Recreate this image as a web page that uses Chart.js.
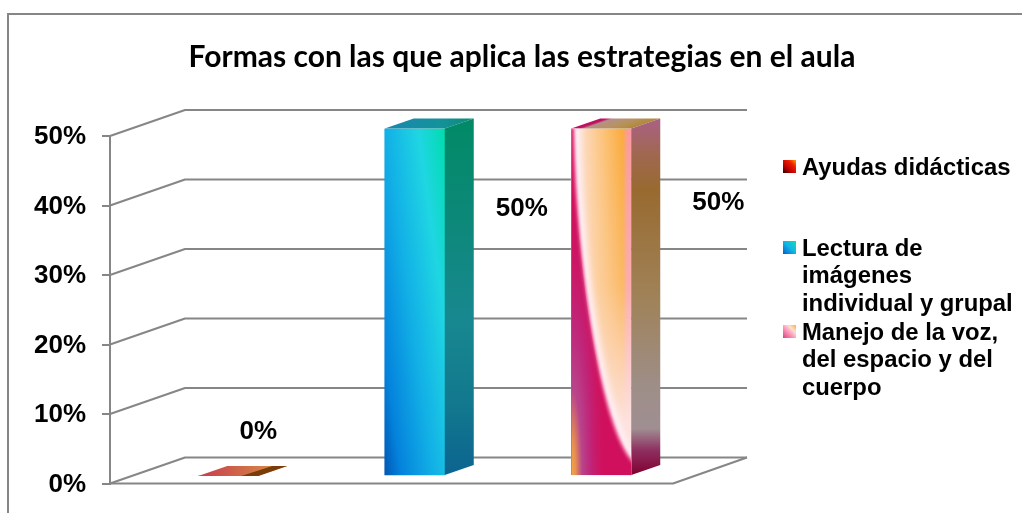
<!DOCTYPE html>
<html>
<head>
<meta charset="utf-8">
<title>Formas con las que aplica las estrategias en el aula</title>
<style>
  html, body { margin: 0; padding: 0; background: #fff; overflow: hidden; }
</style>
<script src="https://cdn.jsdelivr.net/npm/chart.js@4/dist/chart.umd.min.js"></script>
</head>
<body>
<canvas id="grafico" width="1022" height="513"></canvas>
<script>
var titulo = "Formas con las que aplica las estrategias en el aula";
var categorias = [
  ["Ayudas didácticas"],
  ["Lectura de", "imágenes", "individual y grupal"],
  ["Manejo de la voz,", "del espacio y del", "cuerpo"]
];
var valores = [0, 50, 50];
var etiquetasEje = ["0%", "10%", "20%", "30%", "40%", "50%"];
var etiquetasDatos = ["0%", "50%", "50%"];

var gris = "#868686";
var negro = "#000";
var fuenteNum = "bold 26px 'Liberation Sans'";
var fuenteLeyenda = "bold 23.85px 'Liberation Sans'";

// caja 3d: desplazamiento del plano de fondo y de las barras
var fondoX = 75, fondoY = 26, pisoDerecha = 673;
var barraX = 25, barraY = 7.5, hondoX = 29, hondoY = 10;
var desplazaDato = [[30, -44], [107, 80], [117, 74]];
var yLeyenda = [168, 249, 333];

function grad(ctx, x0, y0, x1, y1, stops) {
  var g = ctx.createLinearGradient(x0, y0, x1, y1);
  stops.forEach(function (s) { g.addColorStop(s[0], s[1]); });
  return g;
}

function poly(ctx, pts, fill) {
  ctx.beginPath();
  ctx.moveTo(pts[0][0], pts[0][1]);
  for (var i = 1; i < pts.length; i++) ctx.lineTo(pts[i][0], pts[i][1]);
  ctx.closePath();
  ctx.fillStyle = fill;
  ctx.fill();
}

// relleno del frente de cada barra
function colorFrente(c) {
  var ch = c.chart, i = c.dataIndex, a = ch.chartArea;
  if (!a) return "#888";
  var xc = ch.scales.x.getPixelForValue(i), x0 = xc - 30, x1 = xc + 30;
  if (i == 0) return "#c83a50";
  if (i == 1) {
    return grad(ch.ctx, x0, a.bottom, x0 + 107, a.bottom - 15, [
      [0, "#0058b4"], [0.15, "#0482dc"], [0.45, "#12b0e6"], [0.75, "#1fd6e2"], [1, "#00dcae"]
    ]);
  }
  return grad(ch.ctx, x0, 0, x1, 0, [
    [0, "#fde8ea"], [0.45, "#fcc98a"], [0.85, "#faac3e"], [0.95, "#fb9aa0"], [1, "#fb9aa0"]
  ]);
}

function trazarCurva(ctx, x0, y0, w, h) {
  ctx.beginPath();
  ctx.moveTo(x0 - 10, y0);
  ctx.lineTo(x0 + 0.03 * w, y0);
  ctx.bezierCurveTo(x0 + 0.08 * w, y0 + 0.45 * h, x0 + 0.55 * w, y0 + 0.9 * h, x0 + w + 4, y0 + 0.97 * h);
  ctx.lineTo(x0 + w + 10, y0 + h + 10);
  ctx.lineTo(x0 - 10, y0 + h + 10);
  ctx.closePath();
}

// la curva magenta de la tercera barra
function pintarCurva(ctx, el) {
  var x0 = el.x - el.width / 2, w = el.width, y0 = el.y, h = el.base - el.y, y1 = el.base;
  ctx.save();
  ctx.beginPath();
  ctx.rect(x0, y0, w, h);
  ctx.clip();

  ctx.fillStyle = grad(ctx, 0, y0, 0, y1, [
    [0, "rgba(253,226,222,0)"], [0.45, "rgba(253,226,222,0.25)"], [0.85, "rgba(253,226,222,1)"], [1, "rgba(253,226,222,1)"]
  ]);
  ctx.fillRect(x0, y0, w, h);

  // halo claro y luego el magenta con borde suave
  ctx.filter = "blur(3px)";
  trazarCurva(ctx, x0, y0, w, h);
  ctx.strokeStyle = "#fff0f6";
  ctx.lineWidth = 14;
  ctx.stroke();
  ctx.filter = "blur(1.5px)";
  trazarCurva(ctx, x0, y0, w, h);
  ctx.strokeStyle = "#ff80b0";
  ctx.lineWidth = 3;
  ctx.stroke();
  ctx.fillStyle = "#d0105c";
  ctx.fill();
  ctx.filter = "none";

  // naranja y morado abajo a la izquierda, solo dentro del magenta
  trazarCurva(ctx, x0, y0, w, h);
  ctx.clip();
  ctx.translate(x0, y1);
  ctx.scale(1, 8);
  var r = ctx.createRadialGradient(0, 0, 0, 0, 0, 36);
  r.addColorStop(0, "#f5a848");
  r.addColorStop(0.12, "#e8924e");
  r.addColorStop(0.3, "#b8458c");
  r.addColorStop(0.55, "rgba(190,40,125,0.85)");
  r.addColorStop(1, "rgba(208,16,92,0)");
  ctx.fillStyle = r;
  ctx.fillRect(0, -45, 40, 45);
  ctx.restore();
}

function caras(ctx, el, i) {
  var x0 = el.x - el.width / 2, x1 = el.x + el.width / 2, y = el.y, b = el.base;
  var top = [[x0, y], [x1, y], [x1 + hondoX, y - hondoY], [x0 + hondoX, y - hondoY]];
  var lado = [[x1, y], [x1 + hondoX, y - hondoY], [x1 + hondoX, b - hondoY], [x1, b]];
  if (i == 0) {
    poly(ctx, top, grad(ctx, x0, 0, x1 + hondoX, 0, [[0, "#c83a50"], [0.5, "#d06a48"], [1, "#d89a48"]]));
    poly(ctx, [[x1 - 17, y], [x1, y], [x1 + hondoX, y - hondoY], [x1 + 14, y - hondoY]], "#7a3c0a");
  }
  if (i == 1) {
    poly(ctx, top, grad(ctx, x0, 0, x1 + hondoX, 0, [[0, "#1a86b0"], [0.6, "#15929c"], [1, "#0a8c78"]]));
    poly(ctx, lado, grad(ctx, 0, y, 0, b, [
      [0, "#028a68"], [0.25, "#0c8878"], [0.55, "#188890"], [0.8, "#12788e"], [1, "#0c6490"]
    ]));
  }
  if (i == 2) {
    poly(ctx, top, grad(ctx, x0, y, x0 + 6.4, y + 18.4, [
      [0, "#c01060"], [0.12, "#c01060"], [0.22, "#b49088"], [0.6, "#b89260"], [1, "#b08a38"]
    ]));
    poly(ctx, lado, grad(ctx, 0, y - hondoY, 0, b, [
      [0, "#aa6085"], [0.1, "#a06850"], [0.2, "#986a30"], [0.5, "#a08258"], [0.75, "#9e8e88"],
      [0.87, "#a08e92"], [0.93, "#8e3060"], [1, "#800030"]
    ]));
    pintarCurva(ctx, el);
  }
}

var cajaBarras = {
  id: "cajaBarras",
  beforeDraw: function (ch) {
    var ctx = ch.ctx;
    ctx.save();
    ctx.fillStyle = "#fff";
    ctx.fillRect(0, 0, ch.width, ch.height);
    ctx.strokeStyle = gris;
    ctx.lineWidth = 2;
    ctx.beginPath();
    ctx.moveTo(8, ch.height);
    ctx.lineTo(8, 14);
    ctx.lineTo(ch.width, 14);
    ctx.stroke();
    ctx.restore();
  },
  beforeDatasetsDraw: function (ch) {
    var ctx = ch.ctx, a = ch.chartArea, esc = ch.scales.y;
    ctx.save();
    ctx.strokeStyle = gris;
    ctx.lineWidth = 2;
    ctx.lineJoin = "round";
    esc.ticks.forEach(function (t) {
      var y = esc.getPixelForValue(t.value);
      ctx.beginPath();
      ctx.moveTo(a.left, y);
      ctx.lineTo(a.left + fondoX, y - fondoY);
      ctx.lineTo(pisoDerecha + fondoX - 1, y - fondoY);
      ctx.stroke();
    });
    ctx.beginPath();
    ctx.moveTo(a.left, a.bottom);
    ctx.lineTo(pisoDerecha, a.bottom);
    ctx.lineTo(pisoDerecha + fondoX - 1, a.bottom - fondoY);
    ctx.stroke();
    ctx.restore();
    // las barras quedan dentro de la caja
    ctx.save();
    ctx.translate(barraX, -barraY);
  },
  afterDatasetsDraw: function (ch) {
    var ctx = ch.ctx;
    ch.getDatasetMeta(0).data.forEach(function (el, i) { caras(ctx, el, i); });
    ctx.restore();

    ctx.save();
    ctx.fillStyle = negro;
    ctx.font = fuenteNum;
    ctx.textAlign = "center";
    ctx.textBaseline = "middle";
    ch.getDatasetMeta(0).data.forEach(function (el, i) {
      var d = desplazaDato[i];
      ctx.fillText(etiquetasDatos[i], el.x + barraX + d[0], el.y - barraY + d[1]);
    });
    ctx.restore();
  },
  afterDraw: function (ch) {
    var ctx = ch.ctx;
    var muestras = [
      [[0, "#300000"], [0.35, "#c00000"], [0.7, "#f02000"], [1, "#ffa000"]],
      [[0, "#0060c8"], [0.5, "#12b4e6"], [1, "#10dcb4"]],
      [[0, "#d04880"], [0.4, "#fb90b8"], [0.7, "#fde0d0"], [1, "#faac3e"]]
    ];
    ctx.save();
    ctx.textAlign = "left";
    ctx.textBaseline = "middle";
    ctx.font = fuenteLeyenda;
    categorias.forEach(function (lineas, i) {
      var y = yLeyenda[i];
      ctx.fillStyle = grad(ctx, 783, y + 5, 796, y - 8, muestras[i]);
      ctx.fillRect(783, y - 8, 13, 13);
      ctx.fillStyle = negro;
      lineas.forEach(function (txt, j) {
        ctx.fillText(txt, 802, y + j * 27.5);
      });
    });
    ctx.restore();
  }
};

new Chart(document.getElementById("grafico"), {
  type: "bar",
  data: {
    labels: categorias,
    datasets: [{
      label: "Formas",
      data: valores,
      backgroundColor: colorFrente,
      borderWidth: 0,
      barThickness: 60
    }]
  },
  plugins: [cajaBarras],
  options: {
    responsive: false,
    animation: false,
    devicePixelRatio: 1,
    layout: { padding: { left: 22, right: 0, top: 0, bottom: 29.5 } },
    plugins: {
      legend: { display: false },
      tooltip: { enabled: false },
      title: {
        display: true,
        text: titulo,
        color: negro,
        font: { family: "Lato", size: 30, weight: "bold", lineHeight: 1.2 },
        padding: { top: 39, bottom: 61 }
      }
    },
    scales: {
      x: {
        afterFit: function (s) { s.height = 0; },
        grid: { display: false },
        border: { display: false },
        ticks: { display: false }
      },
      y: {
        min: 0,
        max: 50,
        afterFit: function (s) { s.width = 88; s.paddingTop = 0; s.paddingBottom = 0; },
        grid: { drawOnChartArea: false, drawTicks: true, tickLength: 8, color: gris, lineWidth: 2 },
        border: { display: true, color: gris, width: 2 },
        ticks: {
          stepSize: 10,
          padding: 16,
          labelOffset: 1,
          color: negro,
          font: { family: "Liberation Sans", size: 26, weight: "bold" },
          callback: function (v, i) { return etiquetasEje[i]; }
        }
      },
      // solo reserva el lugar de la leyenda
      derecha: {
        type: "linear",
        axis: "y",
        position: "right",
        afterFit: function (s) { s.width = 352.5; s.paddingTop = 0; s.paddingBottom = 0; },
        grid: { display: false },
        border: { display: false },
        ticks: { display: false }
      }
    }
  }
});
</script>
</body>
</html>
